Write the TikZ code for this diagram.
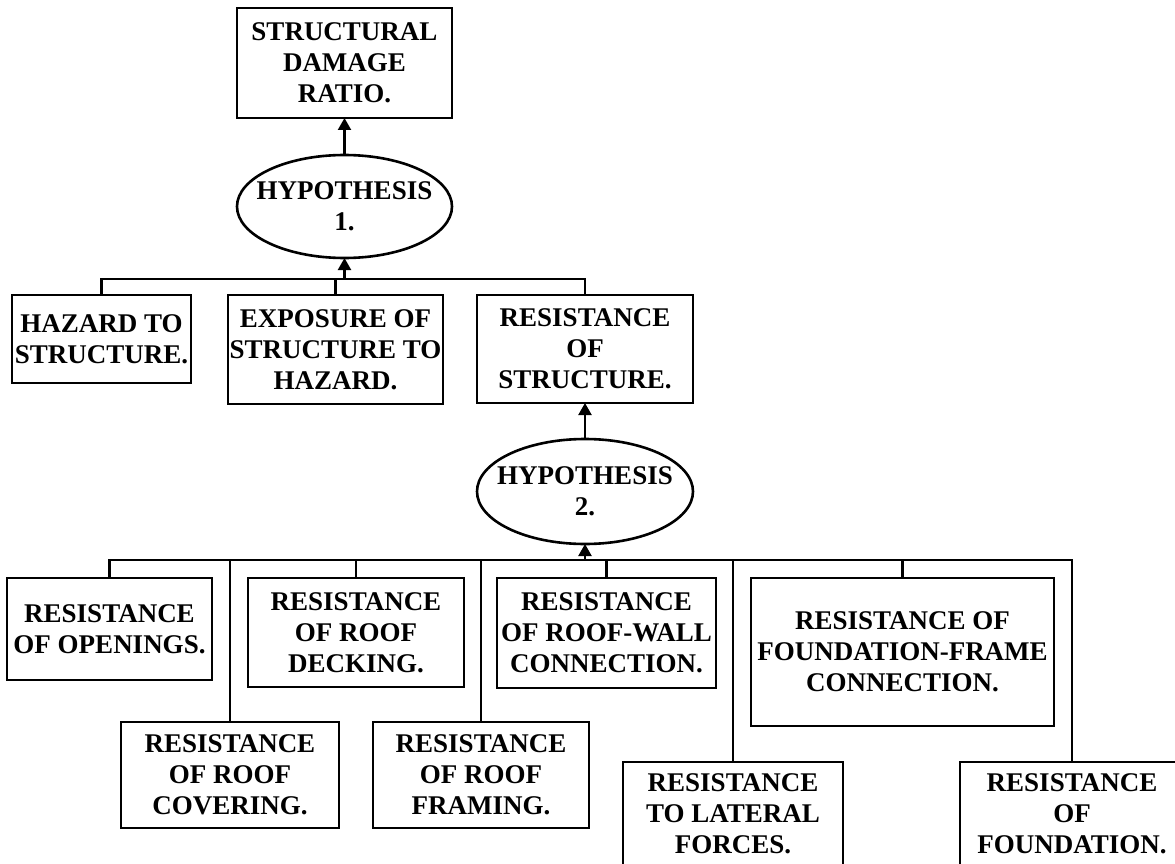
\documentclass[tikz,border=0pt]{standalone}
\usepackage{fontspec}
\setmainfont{Liberation Serif}
\usetikzlibrary{arrows.meta,positioning,shapes.geometric}

\begin{document}
\begin{tikzpicture}[>={Triangle[width=13pt,length=12pt]},
		line width=2.2pt,
		font=\fontsize{27}{31}\selectfont\bfseries]
	\tikzstyle{block}=[draw=black,line width=2.6pt,align=center,inner sep=0pt,outer sep=0pt,minimum width=216pt,minimum height=108pt]
	\tikzstyle{hyp}=[block,ellipse,inner xsep=-12pt,minimum width=215pt,minimum height=103pt]

	\useasboundingbox (0,0) rectangle (1175pt,-864pt);

	% upper level
	\node[block,minimum width=215pt,minimum height=110pt] (SDR) at (344.5pt,-63pt) {STRUCTURAL\\DAMAGE\\RATIO.};
	\node[hyp] (H1) [below=37pt of SDR] {HYPOTHESIS\\1.};
	\node[block,minimum width=215pt,minimum height=109pt] (Exposure) [below=37pt of H1,xshift=-9pt] {EXPOSURE OF\\STRUCTURE TO\\HAZARD.};
	\node[block,minimum width=179pt,minimum height=88pt] (Hazard) [left=37pt of Exposure.north west,anchor=north east] {HAZARD TO\\STRUCTURE.};
	\node[block] (RoS) [right=34pt of Exposure.north east,anchor=north west] {RESISTANCE\\OF\\STRUCTURE.};
	\node[hyp,minimum width=216pt,minimum height=105pt] (H2) [below=36pt of RoS] {HYPOTHESIS\\2.};

	% lower level
	\node[block,minimum width=219pt,minimum height=110pt] (RoofWall) [below=34pt of H2,xshift=21.5pt] {RESISTANCE\\OF ROOF-WALL\\CONNECTION.};
	\node[block,minimum height=109pt] (Decking) [left=33pt of RoofWall.north west,anchor=north east] {RESISTANCE\\OF ROOF\\DECKING.};
	\node[block,minimum width=205pt,minimum height=102pt] (Openings) [left=36pt of Decking.north west,anchor=north east] {RESISTANCE\\OF OPENINGS.};
	\node[block,minimum width=303pt,minimum height=148pt] (FF) [right=35pt of RoofWall.north east,anchor=north west] {RESISTANCE OF\\FOUNDATION-FRAME\\CONNECTION.};
	\node[block,minimum width=218pt,minimum height=106pt] (Covering) [below=42pt of Openings,xshift=120.5pt] {RESISTANCE\\OF ROOF\\COVERING.};
	\node[block,minimum height=106pt] (Framing) [right=34pt of Covering] {RESISTANCE\\OF ROOF\\FRAMING.};
	\node[block,minimum width=220pt,minimum height=104pt] (Lateral) [right=34pt of Framing.north east,anchor=north west,yshift=-40pt] {RESISTANCE\\TO LATERAL\\FORCES.};
	\node[block,minimum width=224pt,minimum height=104pt] (Foundation) [right=117pt of Lateral] {RESISTANCE\\OF\\FOUNDATION.};

	% connectors
	\coordinate[below=21pt of H1] (bus1);
	\coordinate[below=16pt of H2] (bus2);

	\draw[->] (H1.north) -- (SDR.south);
	\draw[->] (bus1) -- (H1.south);
	\draw (Hazard.north) |- (RoS.north |- bus1) -- (RoS.north);
	\draw (Exposure.north) -- (Exposure.north |- bus1);

	\draw[->] (H2.north) -- (RoS.south);
	\draw[->] (bus2) -- (H2.south);
	\draw (Openings.north) |- (Foundation.north |- bus2) -- (Foundation.north);
	\foreach \n in {Covering,Decking,Framing,RoofWall,Lateral,FF}
		\draw (\n.north) -- (\n.north |- bus2);
\end{tikzpicture}
\end{document}
